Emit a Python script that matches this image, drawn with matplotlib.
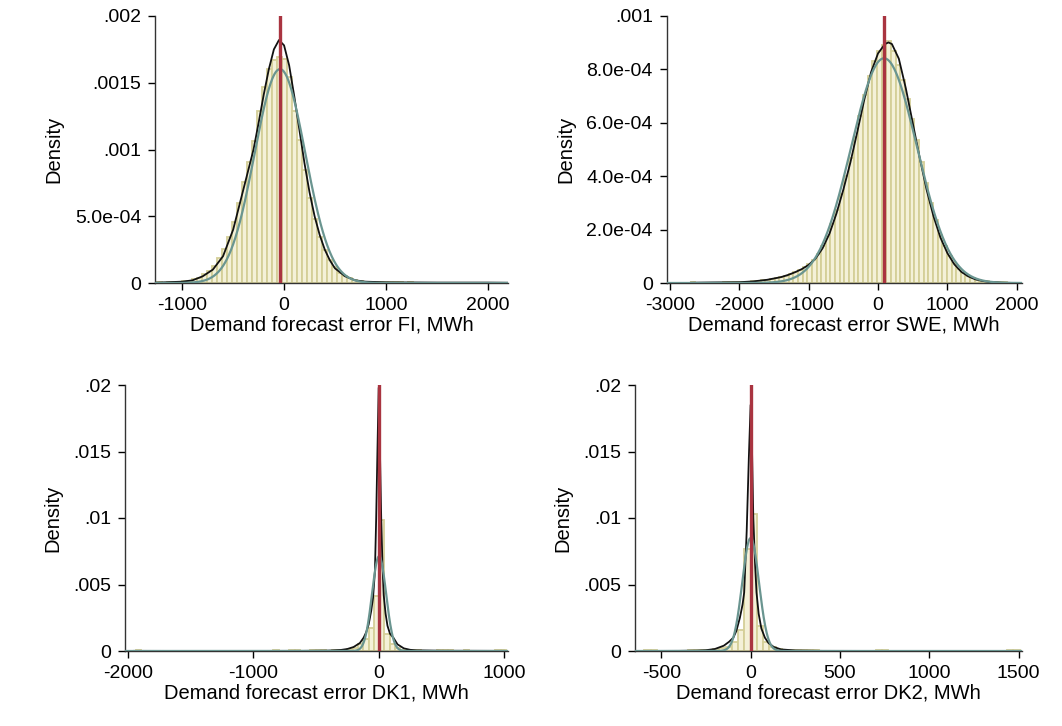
import matplotlib

matplotlib.use("Agg")
import matplotlib.pyplot as plt  # noqa: E402
import numpy as np  # noqa: E402

plt.rcParams["font.family"] = ["Liberation Sans", "DejaVu Sans"]

# ---- FI ----
fi_range = (-1250, 2200)
fi_hist = [
    0.000004, 0.000003, 0.000005, 0.000007, 0.000010, 0.000012, 0.000016, 0.000028,
    0.000040, 0.000065, 0.000090, 0.000130, 0.000185, 0.000255, 0.000345, 0.000455,
    0.000600, 0.000760, 0.000905, 0.001060, 0.001290, 0.001470, 0.001600, 0.001670,
    0.001690, 0.001675, 0.001540, 0.001290, 0.001070, 0.000850, 0.000640, 0.000480,
    0.000345, 0.000245, 0.000170, 0.000118, 0.000078, 0.000052, 0.000034, 0.000022,
    0.000015, 0.000011, 0.000009, 0.000007, 0.000006, 0.000005, 0.000005, 0.000004,
    0.000004, 0.000003, 0.000004, 0.000003, 0.000002, 0.000003, 0.000002, 0.000002,
    0.000003, 0.000002, 0.000002, 0.000001, 0.000002, 0.000002, 0.000001, 0.000002,
    0.000001, 0.000001, 0.000002, 0.000001, 0.000001, 0.000002,
]
fi_kde_x = [-1250, -1000, -900, -800, -700, -600, -500, -400, -300, -250, -200, -150,
            -100, -50, 0, 50, 100, 150, 200, 250, 300, 350, 400, 450, 500, 600, 700,
            800, 1000, 1500, 2000, 2200]
fi_kde_y = [0.000003, 0.00001, 0.00002, 0.00005, 0.00010, 0.00020, 0.00040, 0.00070,
            0.00100, 0.00120, 0.00141, 0.00160, 0.00175, 0.00182, 0.00178, 0.00163,
            0.00140, 0.00115, 0.00090, 0.00068, 0.00050, 0.00036, 0.00025, 0.00017,
            0.00011, 0.00005, 0.00002, 0.00001, 0.000005, 0.000003, 0.000003, 0.000002]
fi_mean, fi_sd = -40, 249

# ---- SWE ----
swe_range = (-2700, 2000)
swe_hist = [
    0.000002, 0.0, 0.000001, 0.0, 0.000001, 0.000001, 0.000001, 0.000002,
    0.000002, 0.000002, 0.000003, 0.000004, 0.000005, 0.000006, 0.000008, 0.000010,
    0.000013, 0.000016, 0.000019, 0.000024, 0.000028, 0.000034, 0.000041, 0.000050,
    0.000060, 0.000072, 0.000088, 0.000110, 0.000140, 0.000175, 0.000220, 0.000275,
    0.000335, 0.000400, 0.000470, 0.000545, 0.000625, 0.000705, 0.000775, 0.000830,
    0.000870, 0.000890, 0.000905, 0.000870, 0.000815, 0.000760, 0.000690, 0.000615,
    0.000535, 0.000455, 0.000375, 0.000300, 0.000235, 0.000180, 0.000137, 0.000102,
    0.000075, 0.000054, 0.000038, 0.000027, 0.000019, 0.000013, 0.000009, 0.000006,
    0.000004, 0.000003, 0.000002, 0.000002, 0.000001, 0.000001,
]
swe_kde_x = [-2700, -2400, -2000, -1800, -1600, -1400, -1300, -1200, -1100, -1000, -900,
             -800, -700, -600, -500, -400, -300, -200, -100, 0, 100, 150, 200, 300, 400,
             500, 600, 700, 800, 900, 1000, 1100, 1200, 1300, 1400, 1500, 1600, 1800, 2000]
swe_kde_y = [0.000001, 0.000002, 0.000003, 0.000006, 0.000012, 0.000022, 0.000030,
             0.000040, 0.000052, 0.000068, 0.000092, 0.000130, 0.000185, 0.000260,
             0.000350, 0.000450, 0.000565, 0.000685, 0.000790, 0.000860, 0.000895,
             0.000901, 0.000895, 0.000840, 0.000730, 0.000600, 0.000470, 0.000350,
             0.000250, 0.000170, 0.000112, 0.000070, 0.000042, 0.000025, 0.000014,
             0.000008, 0.000004, 0.000001, 0.0]
swe_mean, swe_sd = 87, 474

# ---- DK1 ----
dk1_range = (-1935, 1015)
dk1_hist = [0.00008] + [0.0] * 25 + [
    0.00005, 0.00003, 0.0, 0.00006, 0.00004, 0.00002, 0.00002, 0.00004,
    0.00006, 0.00005, 0.00003, 0.00004, 0.00006, 0.00008, 0.00012, 0.00025,
    0.0005, 0.0009, 0.0017, 0.0041, 0.00985, 0.0013, 0.0005, 0.0002,
    0.0001, 0.00008, 0.00006, 0.00004, 0.00003, 0.00002, 0.00002, 0.00004,
    0.00005, 0.00004, 0.00003, 0.00003, 0.00004, 0.00003, 0.00002, 0.0,
    0.00002, 0.00003, 0.00004, 0.00005,
]
dk1_kde_x = [-1950, -1500, -1000, -600, -400, -300, -250, -200, -150, -120, -100, -80,
             -60, -45, -30, -20, -10, 0, 10, 20, 30, 40, 55, 70, 90, 117, 150, 200, 250,
             300, 500, 1000]
dk1_kde_y = [0.00001, 0.000005, 0.000005, 0.00001, 0.00003, 0.00008, 0.00015, 0.00030,
             0.00060, 0.00100, 0.00140, 0.00200, 0.00300, 0.00400, 0.00600, 0.01000,
             0.01500, 0.01980, 0.01500, 0.01000, 0.00650, 0.00420, 0.00280, 0.00190,
             0.00130, 0.00100, 0.00050, 0.00020, 0.00009, 0.00005, 0.00002, 0.00001]
dk1_mean, dk1_sd = 3, 56

# ---- DK2 ----
dk2_range = (-595, 1505)
dk2_hist = [
    0.00008, 0.00005, 0.00003, 0.00002, 0.00002, 0.00003, 0.00003, 0.00004,
    0.00004, 0.00006, 0.00008, 0.00012, 0.0002, 0.0003, 0.0007, 0.0016,
    0.0077, 0.0103, 0.0019, 0.0007, 0.0003, 0.00015, 0.0001, 0.00006,
    0.00004, 0.00004, 0.00005, 0.00004, 0.00002, 0.00001,
] + [0.0] * 7 + [0.00005, 0.00004] + [0.0] * 19 + [0.00004, 0.00006]
dk2_kde_x = [-600, -400, -300, -250, -200, -150, -120, -97, -80, -60, -45, -36, -22,
             -10, 0, 8, 15, 25, 33, 45, 60, 80, 100, 130, 170, 250, 400, 800, 1500]
dk2_kde_y = [0.000005, 0.00001, 0.00003, 0.00006, 0.00015, 0.00040, 0.00070, 0.00100,
             0.00150, 0.00250, 0.00350, 0.00440, 0.00900, 0.01450, 0.01850, 0.01500,
             0.01000, 0.00650, 0.00440, 0.00280, 0.00170, 0.00100, 0.00060, 0.00030,
             0.00012, 0.00004, 0.00001, 0.000005, 0.000003]
dk2_mean, dk2_sd = 0, 47

BAR_FACE = "#f4f1d8"
BAR_EDGE = "#d4cf98"
KDE_COLOR = "#111111"
NORM_COLOR = "#6a9590"
MEAN_COLOR = "#a93440"


def draw_panel(ax, rng, heights, kde_x, kde_y, mu, sd, xlim, ylim, xticks,
               yticks, yticklabels, xlabel):
    edges = np.linspace(rng[0], rng[1], len(heights) + 1)
    ax.bar(edges[:-1], heights, width=np.diff(edges), align="edge",
           color=BAR_FACE, edgecolor=BAR_EDGE, linewidth=1.3, zorder=1)
    ax.plot(kde_x, kde_y, color=KDE_COLOR, lw=1.3, zorder=3)
    xs = np.linspace(xlim[0], xlim[1], 800)
    norm = np.exp(-0.5 * ((xs - mu) / sd) ** 2) / (sd * np.sqrt(2 * np.pi))
    ax.plot(xs, norm, color=NORM_COLOR, lw=1.6, zorder=4)
    ax.plot([mu, mu], [0, ylim[1]], color=MEAN_COLOR, lw=2.4, zorder=5)

    ax.set_xlim(*xlim)
    ax.set_ylim(*ylim)
    ax.set_xticks(xticks)
    ax.set_xticklabels([str(t) for t in xticks])
    ax.set_yticks(yticks)
    ax.set_yticklabels(yticklabels)
    ax.tick_params(direction="out", length=5, width=1, labelsize=14, pad=5)
    for s in ("top", "right"):
        ax.spines[s].set_visible(False)
    for s in ("left", "bottom"):
        ax.spines[s].set_linewidth(1.0)
        ax.spines[s].set_color("#333333")
    ax.set_xlabel(xlabel, fontsize=14.5, labelpad=1)
    ax.set_ylabel("Density", fontsize=14.5, labelpad=8)


W, H = 1062, 726
fig = plt.figure(figsize=(W / 100, H / 100), dpi=100)


def add_axes(x0, x1, ytop, ybot):
    return fig.add_axes([x0 / W, 1 - ybot / H, (x1 - x0) / W, (ybot - ytop) / H])


ax1 = add_axes(155, 508, 16, 283)
draw_panel(ax1, fi_range, fi_hist, fi_kde_x, fi_kde_y, fi_mean, fi_sd,
           (-1268, 2200), (0, 0.002), [-1000, 0, 1000, 2000],
           [0, 0.0005, 0.001, 0.0015, 0.002], ["0", "5.0e-04", ".001", ".0015", ".002"],
           "Demand forecast error FI, MWh")

ax2 = add_axes(666.7, 1021.7, 16, 283)
draw_panel(ax2, swe_range, swe_hist, swe_kde_x, swe_kde_y, swe_mean, swe_sd,
           (-3048, 2072), (0, 0.001), [-3000, -2000, -1000, 0, 1000, 2000],
           [0, 0.0002, 0.0004, 0.0006, 0.0008, 0.001],
           ["0", "2.0e-04", "4.0e-04", "6.0e-04", "8.0e-04", ".001"],
           "Demand forecast error SWE, MWh")

ax3 = add_axes(125, 508.3, 385, 651)
draw_panel(ax3, dk1_range, dk1_hist, dk1_kde_x, dk1_kde_y, dk1_mean, dk1_sd,
           (-2022, 1033), (0, 0.02), [-2000, -1000, 0, 1000],
           [0, 0.005, 0.01, 0.015, 0.02], ["0", ".005", ".01", ".015", ".02"],
           "Demand forecast error DK1, MWh")

ax4 = add_axes(635, 1021.7, 385, 651)
draw_panel(ax4, dk2_range, dk2_hist, dk2_kde_x, dk2_kde_y, dk2_mean, dk2_sd,
           (-647, 1517), (0, 0.02), [-500, 0, 500, 1000, 1500],
           [0, 0.005, 0.01, 0.015, 0.02], ["0", ".005", ".01", ".015", ".02"],
           "Demand forecast error DK2, MWh")

fig.savefig("out.png", dpi=100, facecolor="white")
